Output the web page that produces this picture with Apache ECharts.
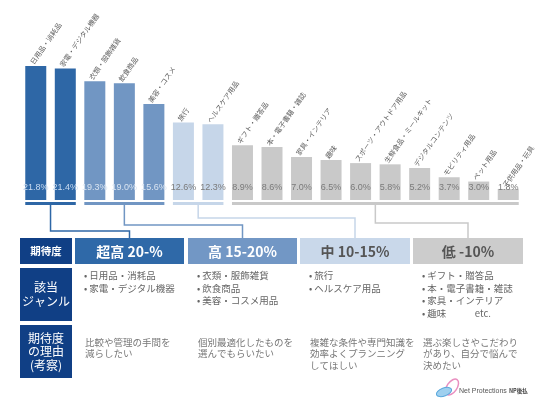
<!DOCTYPE html>
<html>
<head>
<meta charset="utf-8">
<script src="https://cdn.jsdelivr.net/npm/echarts@6/dist/echarts.min.js"></script>
<style>
  html, body { margin: 0; padding: 0; background: #fff; }
  #chart { width: 536px; height: 402px; }
</style>
</head>
<body>
<div id="chart"></div>
<script>
// categories and expectation rate (%)
var categories = ['日用品・消耗品', '家電・デジタル機器', '衣類・服飾雑貨', '飲食商品', '美容・コスメ',
  '旅行', 'ヘルスケア用品', 'ギフト・贈答品', '本・電子書籍・雑誌', '家具・インテリア', '趣味',
  'スポーツ・アウトドア用品', '生鮮食品・ミールキット', 'デジタルコンテンツ', 'モビリティ用品', 'ペット用品', '子供用品・玩具'];
var values = [21.8, 21.4, 19.3, 19.0, 15.6, 12.6, 12.3, 8.9, 8.6, 7.0, 6.5, 6.0, 5.8, 5.2, 3.7, 3.0, 1.8];
var tierOf = [0, 0, 1, 1, 1, 2, 2, 3, 3, 3, 3, 3, 3, 3, 3, 3, 3];

// tiers
var tierHeads = ['超高 20-%', '高 15-20%', '中 10-15%', '低 -10%'];
var tierGenres = [
  ['日用品・消耗品', '家電・デジタル機器'],
  ['衣類・服飾雑貨', '飲食商品', '美容・コスメ用品'],
  ['旅行', 'ヘルスケア用品'],
  ['ギフト・贈答品', '本・電子書籍・雑誌', '家具・インテリア', '趣味　　　etc.']
];
var tierReasons = [
  ['比較や管理の手間を', '減らしたい'],
  ['個別最適化したものを', '選んでもらいたい'],
  ['複雑な条件や専門知識を', '効率よくプランニング', 'してほしい'],
  ['選ぶ楽しさやこだわり', 'があり、自分で悩んで', '決めたい']
];
var rowLabels = [['期待度'], ['該当', 'ジャンル'], ['期待度', 'の理由', '(考察)']];

var tierColors = ['#2e67a6', '#7196c3', '#c6d6e9', '#c9c9c9'];
var headColors = ['#2f69a8', '#7297c5', '#c9d8ea', '#cccccc'];
var headText = ['#ffffff', '#ffffff', '#555555', '#555555'];
var valueText = ['#c9dbf0', '#d8e3f0', '#7a7a7a', '#7a7a7a'];
var navy = '#103f85';
var JP = '"Noto Sans CJK JP", "Noto Sans", sans-serif';

var chart = echarts.init(document.getElementById('chart'));

chart.setOption({
  backgroundColor: '#ffffff',
  animation: false,
  grid: { left: 21, right: 13, top: 15.5, bottom: 202 },
  xAxis: {
    type: 'category',
    data: categories,
    axisLine: { show: false },
    axisTick: { show: false },
    axisLabel: { show: false }
  },
  yAxis: { type: 'value', min: 0, max: 30, show: false, splitLine: { show: false } },
  series: [{
    type: 'bar',
    barWidth: 21,
    data: values.map(function (v, i) {
      return {
        value: v,
        itemStyle: { color: tierColors[tierOf[i]] },
        label: { color: valueText[tierOf[i]] }
      };
    }),
    label: {
      show: true,
      position: ['50%', '100%'],
      offset: [0, -12],
      align: 'center',
      verticalAlign: 'middle',
      overflow: 'none',
      fontFamily: '"Liberation Sans Narrow", "Liberation Sans", sans-serif',
      fontSize: 9,
      formatter: function (p) { return p.value.toFixed(1) + '%'; }
    }
  }, {
    type: 'bar',
    barWidth: 21,
    barGap: '-100%',
    silent: true,
    itemStyle: { color: 'transparent' },
    data: values,
    label: {
      show: true,
      position: 'top',
      distance: 2,
      rotate: 55,
      align: 'left',
      verticalAlign: 'bottom',
      offset: [-2, 0],
      color: '#606060',
      fontFamily: JP,
      fontSize: 7,
      formatter: function (p) { return p.name; }
    }
  }]
});

// table + connectors
var cols = [[75, 184], [188, 297], [300, 410], [413, 523]];
var rows = [[238, 264], [268, 321], [325, 378]];
var connectY = [231, 225, 218, 223];
var g = [];

function text(str, x, y, font, fill, align) {
  g.push({
    type: 'text', silent: true,
    style: { text: str, x: x, y: y, font: font, fill: fill, textAlign: align || 'left', textVerticalAlign: 'middle' }
  });
}

// row labels
rows.forEach(function (r, ri) {
  g.push({ type: 'rect', silent: true, shape: { x: 20, y: r[0], width: 52, height: r[1] - r[0] }, style: { fill: navy } });
  var lines = rowLabels[ri];
  var lh = ri === 0 ? 0 : 13.5;
  var cy = (r[0] + r[1]) / 2 - lh * (lines.length - 1) / 2;
  lines.forEach(function (ln, k) {
    text(ln, 46, cy + k * lh, (ri === 0 ? 'bold 10.5px ' : '12px ') + JP, '#ffffff', 'center');
  });
});

// underlines and connectors from bar positions
for (var t = 0; t < 4; t++) {
  var idx = [];
  tierOf.forEach(function (v, i) { if (v === t) idx.push(i); });
  var x0 = chart.convertToPixel({ xAxisIndex: 0 }, idx[0]) - 10.5;
  var x1 = chart.convertToPixel({ xAxisIndex: 0 }, idx[idx.length - 1]) + 10.5;
  var yb = chart.convertToPixel({ yAxisIndex: 0 }, 0);
  g.push({ type: 'rect', silent: true, shape: { x: x0, y: yb + 2, width: x1 - x0, height: 3 }, style: { fill: tierColors[t] } });
  var mx = (x0 + x1) / 2;
  var cx = (cols[t][0] + cols[t][1]) / 2;
  g.push({
    type: 'polyline', silent: true,
    shape: { points: [[mx, yb + 5], [mx, connectY[t]], [cx, connectY[t]], [cx, rows[0][0]]] },
    style: { stroke: tierColors[t], lineWidth: 1.5, fill: null }
  });

  // header cell
  g.push({ type: 'rect', silent: true, shape: { x: cols[t][0], y: rows[0][0], width: cols[t][1] - cols[t][0], height: rows[0][1] - rows[0][0] }, style: { fill: headColors[t] } });
  text(tierHeads[t], cx, 251.5, 'bold 14px ' + JP, headText[t], 'center');

  // genres
  tierGenres[t].forEach(function (ln, k) {
    text('• ' + ln, cols[t][0] + 9, 275.5 + k * 12.6, '9.5px ' + JP, '#666666');
  });
  // reasons
  tierReasons[t].forEach(function (ln, k) {
    text(ln, cols[t][0] + 10, 342 + k * 11.8, '9.5px ' + JP, '#777777');
  });
}

// logo
g.push({ type: 'ellipse', silent: true, x: 452, y: 387, rotation: -0.6, shape: { cx: 0, cy: 0, rx: 5, ry: 9 }, style: { fill: null, stroke: '#e98fc0', lineWidth: 1.5 } });
g.push({ type: 'ellipse', silent: true, x: 444, y: 392, rotation: 0.35, shape: { cx: 0, cy: 0, rx: 8, ry: 4 }, style: { fill: '#9fd0ef', stroke: '#5aa8dc', lineWidth: 1 } });
text('Net Protections', 459, 391, '7px "Liberation Sans", sans-serif', '#555555');
text('NP後払', 509, 391, 'bold 5.5px ' + JP, '#444444');

chart.setOption({ graphic: { elements: g } });
</script>
</body>
</html>
